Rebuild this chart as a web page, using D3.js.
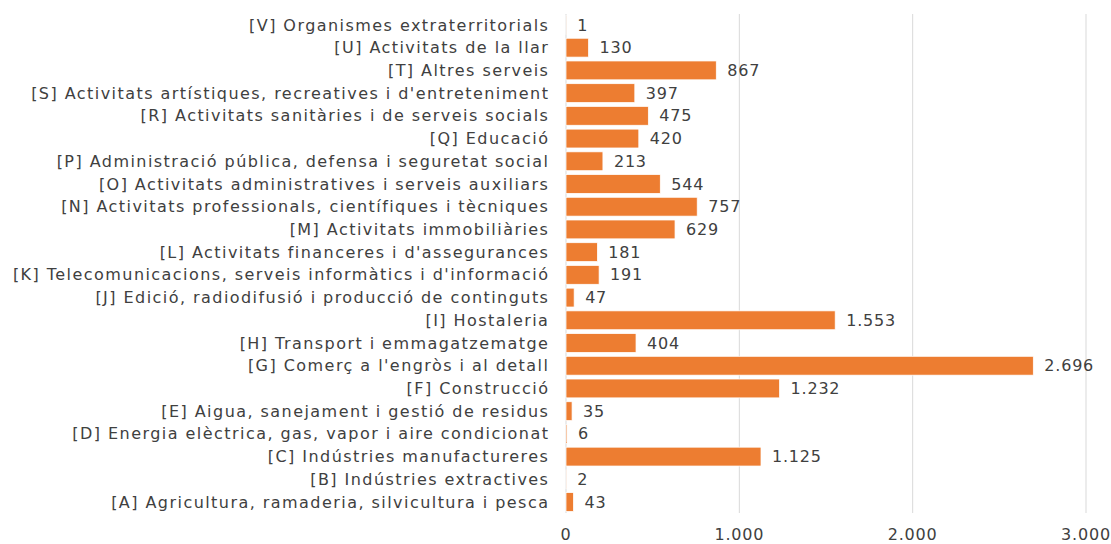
<!DOCTYPE html>
<html>
<head>
<meta charset="utf-8">
<script src="https://cdn.jsdelivr.net/npm/d3@7"></script>
<style>
  body { margin: 0; background: #fff; }
  svg text { font-family: "DejaVu Sans", sans-serif; fill: #404040; }
</style>
</head>
<body>
<svg id="chart" width="1111" height="544"></svg>
<script>
// sectors, bottom to top as in the picture
const categories = [
  "[A] Agricultura, ramaderia, silvicultura i pesca",
  "[B] Indústries extractives",
  "[C] Indústries manufactureres",
  "[D] Energia elèctrica, gas, vapor i aire condicionat",
  "[E] Aigua, sanejament i gestió de residus",
  "[F] Construcció",
  "[G] Comerç a l'engròs i al detall",
  "[H] Transport i emmagatzematge",
  "[I] Hostaleria",
  "[J] Edició, radiodifusió i producció de continguts",
  "[K] Telecomunicacions, serveis informàtics i d'informació",
  "[L] Activitats financeres i d'assegurances",
  "[M] Activitats immobiliàries",
  "[N] Activitats professionals, científiques i tècniques",
  "[O] Activitats administratives i serveis auxiliars",
  "[P] Administració pública, defensa i seguretat social",
  "[Q] Educació",
  "[R] Activitats sanitàries i de serveis socials",
  "[S] Activitats artístiques, recreatives i d'entreteniment",
  "[T] Altres serveis",
  "[U] Activitats de la llar",
  "[V] Organismes extraterritorials"
];
const values = [43, 2, 1125, 6, 35, 1232, 2696, 404, 1553, 47, 191, 181, 629, 757, 544, 213, 420, 475, 397, 867, 130, 1];
const xTicks = [0, 1000, 2000, 3000];

const svg = d3.select("#chart");
const fmt = d3.formatLocale({decimal: ",", thousands: ".", grouping: [3], currency: ["", ""]}).format(",d");

const x = d3.scaleLinear().domain([0, 3000]).range([566, 1086]);
const y = d3.scaleBand()
    .domain(categories.slice().reverse())
    .range([13.6, 513.4])
    .paddingInner(0.17)
    .paddingOuter(0.085);

// gridlines
svg.selectAll(".grid")
    .data(xTicks)
    .enter().append("line")
    .attr("x1", d => x(d)).attr("x2", d => x(d))
    .attr("y1", 14).attr("y2", 513)
    .attr("stroke", "#d9d9d9")
    .attr("stroke-width", 1);

// bars
svg.selectAll(".bar")
    .data(categories)
    .enter().append("rect")
    .attr("x", x(0))
    .attr("y", d => y(d))
    .attr("width", (d, i) => x(values[i]) - x(0))
    .attr("height", y.bandwidth())
    .attr("fill", "#ed7d31")
    .attr("stroke", "#fff")
    .attr("stroke-width", 0.75);

// value labels
svg.selectAll(".val")
    .data(categories)
    .enter().append("text")
    .attr("x", (d, i) => x(values[i]) + 11)
    .attr("y", d => y(d) + y.bandwidth() / 2)
    .attr("dy", "0.35em")
    .style("font-size", "16px")
    .style("letter-spacing", "0.8px")
    .text((d, i) => fmt(values[i]));

// category labels
svg.selectAll(".cat")
    .data(categories)
    .enter().append("text")
    .attr("x", 549.4)
    .attr("y", d => y(d) + y.bandwidth() / 2)
    .attr("dy", "0.35em")
    .attr("text-anchor", "end")
    .style("font-size", "16px")
    .style("letter-spacing", "1.45px")
    .text(d => d);

// x tick labels
svg.selectAll(".tick")
    .data(xTicks)
    .enter().append("text")
    .attr("x", d => x(d))
    .attr("y", 534)
    .attr("dy", "0.35em")
    .attr("text-anchor", "middle")
    .style("font-size", "16px")
    .style("letter-spacing", "0.8px")
    .text(d => fmt(d));
</script>
</body>
</html>
